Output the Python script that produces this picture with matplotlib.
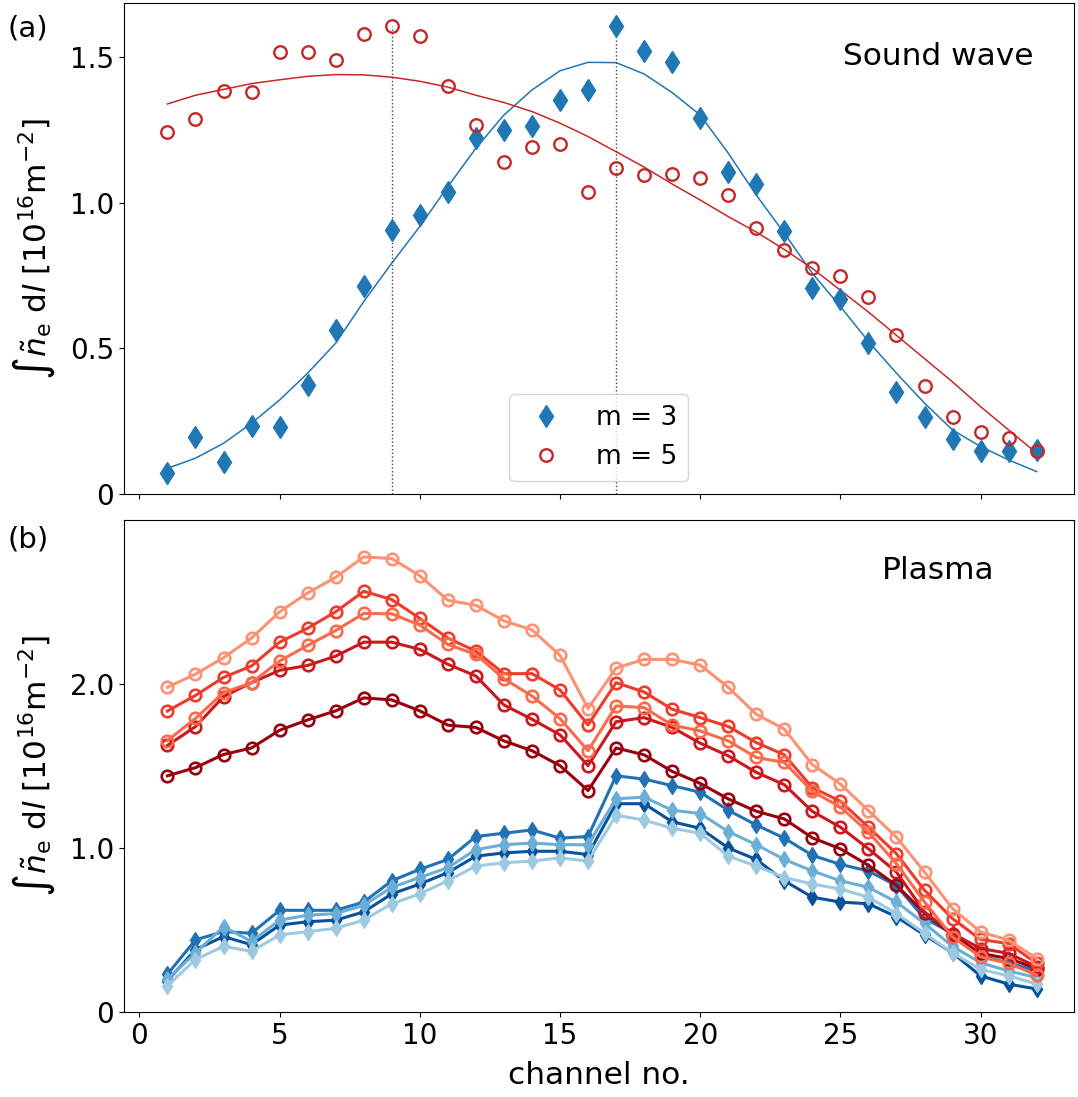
import matplotlib
matplotlib.use('Agg')
import matplotlib.pyplot as plt
import numpy as np

# channel numbers
channels = np.arange(1, 33)

# (a) sound wave: measured amplitudes and fitted profiles
m3_data = [0.072, 0.196, 0.11, 0.234, 0.23, 0.375, 0.564, 0.713, 0.906, 0.959, 1.038, 1.223,
           1.25, 1.265, 1.354, 1.388, 1.607, 1.521, 1.484, 1.292, 1.105, 1.065, 0.904, 0.709,
           0.67, 0.519, 0.351, 0.265, 0.19, 0.148, 0.149, 0.151]
m5_data = [1.244, 1.289, 1.386, 1.381, 1.518, 1.52, 1.491, 1.582, 1.608, 1.574, 1.402, 1.266,
           1.139, 1.191, 1.202, 1.039, 1.119, 1.097, 1.099, 1.085, 1.027, 0.913, 0.838, 0.778,
           0.749, 0.676, 0.546, 0.371, 0.266, 0.212, 0.192, 0.148]
m3_fit = [0.088, 0.123, 0.174, 0.243, 0.323, 0.415, 0.518, 0.661, 0.793, 0.919, 1.056, 1.188,
          1.302, 1.388, 1.454, 1.483, 1.482, 1.443, 1.379, 1.302, 1.171, 1.027, 0.896, 0.758,
          0.644, 0.524, 0.415, 0.312, 0.22, 0.163, 0.117, 0.077]
m5_fit = [1.34, 1.37, 1.39, 1.41, 1.423, 1.435, 1.441, 1.44, 1.432, 1.418, 1.398, 1.37,
          1.345, 1.314, 1.274, 1.228, 1.176, 1.123, 1.065, 1.01, 0.953, 0.9, 0.84, 0.775,
          0.70, 0.625, 0.545, 0.465, 0.385, 0.30, 0.22, 0.14]

# (b) plasma: m = 5 profiles
red_series = [
    [1.44, 1.49, 1.57, 1.61, 1.718, 1.781, 1.836, 1.915, 1.903, 1.836, 1.749, 1.735,
     1.653, 1.593, 1.502, 1.35, 1.61, 1.568, 1.467, 1.394, 1.299, 1.224, 1.177, 1.062,
     0.995, 0.894, 0.772, 0.604, 0.468, 0.357, 0.326, 0.265],
    [1.625, 1.74, 1.923, 2.008, 2.083, 2.113, 2.17, 2.255, 2.255, 2.211, 2.12, 2.049,
     1.872, 1.785, 1.69, 1.502, 1.77, 1.795, 1.735, 1.639, 1.562, 1.461, 1.386, 1.223,
     1.127, 0.995, 0.853, 0.61, 0.478, 0.387, 0.357, 0.276],
    [1.835, 1.93, 2.04, 2.11, 2.255, 2.34, 2.44, 2.565, 2.515, 2.40, 2.28, 2.20,
     2.063, 2.063, 1.964, 1.75, 2.008, 1.951, 1.846, 1.795, 1.741, 1.643, 1.568, 1.368,
     1.285, 1.127, 0.965, 0.742, 0.569, 0.442, 0.417, 0.296],
    [1.655, 1.79, 1.947, 2.008, 2.14, 2.235, 2.326, 2.43, 2.428, 2.359, 2.241, 2.18,
     2.032, 1.927, 1.789, 1.593, 1.866, 1.856, 1.749, 1.714, 1.653, 1.552, 1.522, 1.345,
     1.25, 1.096, 0.904, 0.671, 0.458, 0.336, 0.296, 0.225],
    [1.98, 2.06, 2.16, 2.28, 2.44, 2.555, 2.65, 2.775, 2.765, 2.66, 2.51, 2.48,
     2.385, 2.33, 2.175, 1.85, 2.097, 2.15, 2.15, 2.115, 1.98, 1.815, 1.725, 1.508,
     1.39, 1.228, 1.066, 0.853, 0.63, 0.488, 0.438, 0.326],
]
red_colors = ['#99000d', '#cb181d', '#ef3b2c', '#fb6a4a', '#fc9272']

# (b) plasma: m = 3 profiles
blue_series = [
    [0.19, 0.38, 0.46, 0.41, 0.53, 0.55, 0.56, 0.61, 0.72, 0.78, 0.85, 0.95,
     0.97, 0.98, 0.98, 0.96, 1.27, 1.27, 1.16, 1.12, 1.00, 0.93, 0.80, 0.70,
     0.67, 0.66, 0.58, 0.47, 0.36, 0.22, 0.17, 0.14],
    [0.23, 0.44, 0.49, 0.48, 0.62, 0.62, 0.62, 0.67, 0.80, 0.87, 0.93, 1.07,
     1.09, 1.11, 1.06, 1.07, 1.44, 1.42, 1.38, 1.34, 1.23, 1.14, 1.06, 0.955,
     0.90, 0.86, 0.77, 0.57, 0.48, 0.34, 0.30, 0.25],
    [0.20, 0.36, 0.52, 0.43, 0.56, 0.59, 0.60, 0.65, 0.76, 0.82, 0.88, 0.99,
     1.02, 1.03, 1.02, 1.02, 1.30, 1.31, 1.23, 1.21, 1.10, 1.02, 0.93, 0.86,
     0.80, 0.76, 0.67, 0.54, 0.40, 0.30, 0.25, 0.21],
    [0.16, 0.32, 0.40, 0.37, 0.47, 0.49, 0.51, 0.56, 0.66, 0.72, 0.80, 0.89,
     0.91, 0.92, 0.94, 0.92, 1.20, 1.17, 1.12, 1.09, 0.95, 0.89, 0.82, 0.78,
     0.75, 0.70, 0.60, 0.48, 0.36, 0.26, 0.22, 0.17],
]
blue_colors = ['#08519c', '#2171b5', '#6baed6', '#9ecae1']

ylabel = r'$\int\tilde{n}_\mathrm{e}$ d$l$ [$10^{16}$m$^{-2}$]'
FS = 20      # tick labels
LFS = 22.5   # axis labels

fig = plt.figure(figsize=(10.78, 10.97), dpi=100)
ax1 = fig.add_axes([0.115, 0.5497, 0.881, 0.4476])
ax2 = fig.add_axes([0.115, 0.0775, 0.881, 0.4485])

# --- (a) sound wave ---
c_blue = '#1f77b4'
c_red = '#c62828'
ax1.plot(channels, m3_fit, '-', color=c_blue, lw=1.1)
ax1.plot(channels, m5_fit, '-', color=c_red, lw=1.1)
ax1.vlines(9, 0, m5_data[8], colors='#444444', linestyles=':', lw=1)
ax1.vlines(17, 0, m3_data[16], colors='#444444', linestyles=':', lw=1)
ax1.plot(channels, m3_data, 'd', color=c_blue, ms=11.5, ls='none', label='m = 3')
ax1.plot(channels, m5_data, 'o', mfc='none', mec=c_red, mew=1.7, ms=9, ls='none',
         label='m = 5')
ax1.legend(loc='lower center', fontsize=19, handletextpad=0.9)
ax1.set_xlim(-0.55, 33.32)
ax1.set_ylim(0, 1.687)
ax1.set_yticks([0, 0.5, 1.0, 1.5])
ax1.set_yticklabels(['0', '0.5', '1.0', '1.5'])
ax1.set_xticks(range(0, 31, 5))
ax1.set_xticklabels([])
ax1.tick_params(labelsize=FS)
ax1.set_ylabel(ylabel, fontsize=LFS, labelpad=9)
ax1.text(0.857, 0.89, 'Sound wave', transform=ax1.transAxes, fontsize=22.5,
         ha='center', va='center')
fig.text(0.007, 0.987, '(a)', fontsize=21, ha='left', va='top')

# --- (b) plasma ---
for vals, col in zip(blue_series, blue_colors):
    ax2.plot(channels, vals, '-d', color=col, lw=2.2, ms=8)
for vals, col in zip(red_series, red_colors):
    ax2.plot(channels, vals, '-o', color=col, mfc='none', mec=col, mew=1.9,
             lw=2.2, ms=8.3)
ax2.set_xlim(-0.55, 33.32)
ax2.set_ylim(0, 3.0)
ax2.set_yticks([0, 1.0, 2.0])
ax2.set_yticklabels(['0', '1.0', '2.0'])
ax2.set_xticks(range(0, 31, 5))
ax2.tick_params(labelsize=FS)
ax2.set_ylabel(ylabel, fontsize=LFS, labelpad=9)
ax2.set_xlabel('channel no.', fontsize=LFS, labelpad=8)
ax2.text(0.857, 0.898, 'Plasma', transform=ax2.transAxes, fontsize=22.5,
         ha='center', va='center')
fig.text(0.007, 0.521, '(b)', fontsize=21, ha='left', va='top')

fig.savefig('out.png', dpi=100)
